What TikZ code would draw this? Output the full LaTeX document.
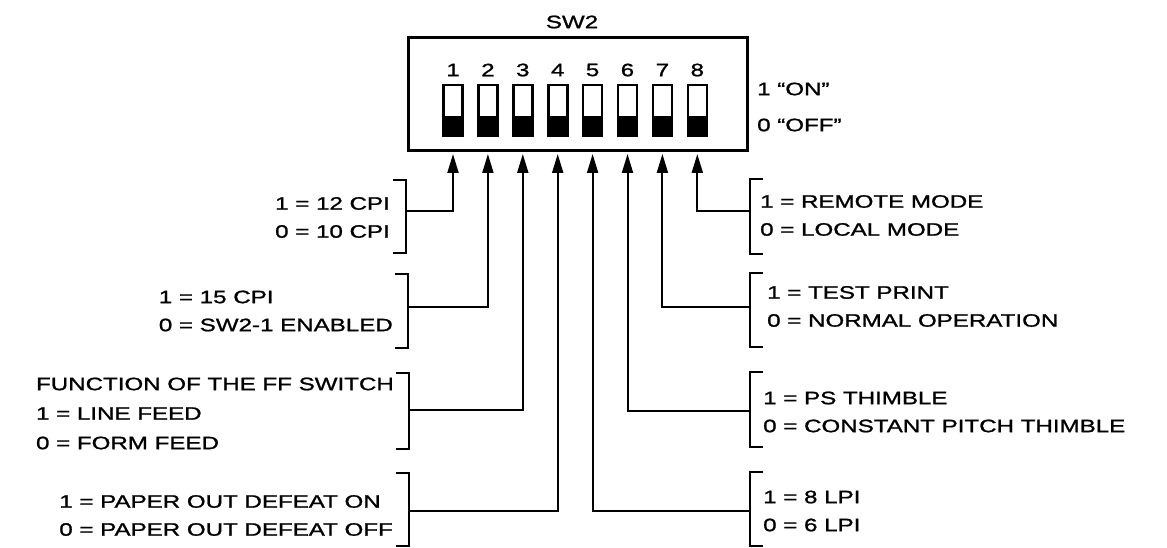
\documentclass[tikz,border=0pt]{standalone}
\usepackage{fontspec}
\setmainfont[FakeStretch=1.34,FakeBold=1.2]{Liberation Sans}
\usetikzlibrary{arrows.meta,calc}

\tikzset{
  switch/.style={draw,line width=2.6pt,minimum width=19pt,minimum height=51pt,inner sep=0pt},
  brace/.style={line width=2.2pt},
  pin/.style={line width=2pt,shorten >=1.5pt,-{Triangle[length=19pt,width=11pt]}},
  lbl/.style={inner sep=0pt,align=left,font=\fontsize{18}{28}\selectfont},
}

\begin{document}
\begin{tikzpicture}[x=1pt,y=-1pt,line join=miter]
  \path[use as bounding box] (0,0) rectangle (1167,548);

  % housing, its name and the two switch positions
  \node[draw,line width=3pt,minimum width=339pt,minimum height=113pt,inner sep=0pt] (box) at (577.5,94.5) {};
  \node[inner sep=0pt,font=\fontsize{18}{20}\selectfont] (title) at (572,22) {SW2};
  \node[lbl,anchor=west] (on) at (757,89) {1 ``ON''};
  \node[lbl,anchor=west] (off) at (757,125) {0 ``OFF''};

  % eight rockers, lower half black, numbers above
  \foreach \i in {1,...,8}{
    \pgfmathsetmacro{\xx}{453 + 34.9*(\i-1)}
    \node[switch] (sw\i) at (\xx,110.5) {};
    \fill (sw\i.south west) rectangle ([yshift=-5.5pt]sw\i.east);
    \node[inner sep=0pt,font=\fontsize{18}{20}\selectfont] (num\i) at (\xx,70) {\i};
  }

  % brackets on the left (switches 1-4) and on the right (switches 5-8)
  \foreach \n/\x/\t/\b/\j in {1/406/180/253/211, 2/408/274/348/307, 3/409/373/449/410, 4/409/473/546/511}{
    \draw[brace] (\x-13,\t) -- (\x,\t) -- (\x,\b) -- (\x-13,\b);
    \coordinate (j\n) at (\x,\j);
  }
  \foreach \n/\x/\t/\b/\j in {5/750/472/546/511, 6/750/372/447/411, 7/750/273/347/307, 8/750/179/254/211}{
    \draw[brace] (\x+13,\t) -- (\x,\t) -- (\x,\b) -- (\x+13,\b);
    \coordinate (j\n) at (\x,\j);
  }

  % each bracket points up to its switch
  \foreach \n in {1,...,8}
    \draw[pin] (j\n) -| (sw\n |- box.south);

  % settings
  \node[lbl,anchor=east] (t1) at (390,217.5) {1 = 12 CPI\\0 = 10 CPI};
  \node[lbl,anchor=east] (t2) at (393,311) {1 = 15 CPI\\0 = SW2-1 ENABLED};
  \node[lbl,anchor=east,font=\fontsize{18}{29.5}\selectfont] (t3) at (394,413.5)
    {FUNCTION OF THE FF SWITCH\\1 = LINE FEED\\0 = FORM FEED};
  \node[lbl,anchor=east] (t4) at (393,515.5) {1 = PAPER OUT DEFEAT ON\\0 = PAPER OUT DEFEAT OFF};
  \node[lbl,anchor=west] (t8) at (760,215.5) {1 = REMOTE MODE\\0 = LOCAL MODE};
  \node[lbl,anchor=west] (t7) at (767,306.5) {1 = TEST PRINT\\0 = NORMAL OPERATION};
  \node[lbl,anchor=west] (t6) at (763,412) {1 = PS THIMBLE\\0 = CONSTANT PITCH THIMBLE};
  \node[lbl,anchor=west] (t5) at (763,511) {1 = 8 LPI\\0 = 6 LPI};
\end{tikzpicture}
\end{document}
